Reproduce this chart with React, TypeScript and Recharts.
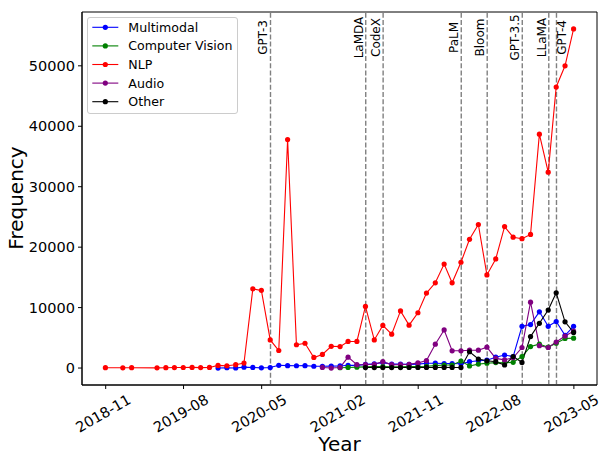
import React from 'react';
import { LineChart, Line, XAxis, YAxis, ReferenceLine, ReferenceArea } from 'recharts';

const months = [
  '2018-10', '2018-11', '2018-12', '2019-01', '2019-02', '2019-03', '2019-04', '2019-05', '2019-06', '2019-07',
  '2019-08', '2019-09', '2019-10', '2019-11', '2019-12', '2020-01', '2020-02', '2020-03', '2020-04', '2020-05',
  '2020-06', '2020-07', '2020-08', '2020-09', '2020-10', '2020-11', '2020-12', '2021-01', '2021-02', '2021-03',
  '2021-04', '2021-05', '2021-06', '2021-07', '2021-08', '2021-09', '2021-10', '2021-11', '2021-12', '2022-01',
  '2022-02', '2022-03', '2022-04', '2022-05', '2022-06', '2022-07', '2022-08', '2022-09', '2022-10', '2022-11',
  '2022-12', '2023-01', '2023-02', '2023-03', '2023-04',
];

const multimodal = [
  null, null, null, null, null, null, null, null, null, null,
  null, null, null, 0, 60, 20, 150, 100, 30, 80,
  450, 400, 380, 400, 300, 300, 320, 350, 450, 450,
  600, 700, 900, 650, 650, 600, 650, 800, 800, 750,
  750, 700, 1050, 1200, 1300, 1800, 2150, 1900, 6900, 7200,
  9300, 6900, 7700, 5400, 6900,
];

const computerVision = [
  null, null, null, null, null, null, null, null, null, null,
  null, null, null, null, null, null, null, null, null, null,
  null, null, null, null, null, null, null, 50, 100, 150,
  200, 250, 250, 200, 200, 250, 250, 300, 400, 500,
  500, 1150, 350, 650, 800, 900, 850, 950, 1900, 3550,
  3950, 3450, 4100, 4900, 4950,
];

const nlp = [
  60, null, 40, 60, null, null, 30, 60, 80, 90,
  110, 70, 100, 440, 380, 550, 820, 13100, 12850, 4650,
  2900, 37800, 3850, 4100, 1750, 2250, 3600, 3550, 4400, 4400,
  10200, 4650, 7050, 5600, 9450, 7100, 9150, 12400, 14100, 17200,
  14100, 17500, 21300, 23750, 15400, 18050, 23400, 21650, 21400, 22100,
  38700, 32400, 46500, 50000, 56100,
];

const audio = [
  null, null, null, null, null, null, null, null, null, null,
  null, null, null, null, null, null, null, null, null, null,
  null, null, null, null, null, 100, 0, 100, 1800, 550,
  550, 620, 1050, 550, 550, 620, 850, 1250, 3950, 6300,
  2850, 2850, 2950, 2950, 3450, 1600, 1350, 1700, 3400, 10900,
  3700, 3400, 4300, 5300, 6100,
];

const other = [
  null, null, null, null, null, null, null, null, null, null,
  null, null, null, null, null, null, null, null, null, null,
  null, null, null, null, null, null, null, null, null, null,
  80, 80, 90, 80, 80, 90, 90, 100, 100, 110,
  100, 100, 2700, 1500, 1200, 1050, 500, 1900, 930, 5200,
  7400, 9600, 12450, 7650, 5900,
];

const eventNames = ['GPT-3', 'LaMDA', 'CodeX', 'PaLM', 'Bloom', 'GPT-3.5', 'LLaMA', 'GPT-4'];
const eventDates = ['2020-06-01', '2021-05-01', '2021-07-01', '2022-04-01', '2022-07-01', '2022-11-01', '2023-02-02', '2023-03-01'];
const eventLabelSide = ['left', 'left', 'left', 'left', 'left', 'left', 'left', 'right'];

const xTickLabels = ['2018-11', '2019-08', '2020-05', '2021-02', '2021-11', '2022-08', '2023-05'];
const yTicks = [0, 10000, 20000, 30000, 40000, 50000];

const seriesNames = ['Multimodal', 'Computer Vision', 'NLP', 'Audio', 'Other'];
const seriesKeys = ['multimodal', 'computerVision', 'nlp', 'audio', 'other'];
const seriesColors = ['#0000ff', '#008000', '#ff0000', '#800080', '#000000'];
const seriesValues = [multimodal, computerVision, nlp, audio, other];

const DAY = 86400000;
const monthEnd = (s: string) => {
  const [y, m] = s.split('-').map(Number);
  return Date.UTC(y, m, 0) / DAY;
};
const monthStart = (s: string) => {
  const [y, m] = s.split('-').map(Number);
  return Date.UTC(y, m - 1, 1) / DAY;
};
const dateDay = (s: string) => {
  const [y, m, d] = s.split('-').map(Number);
  return Date.UTC(y, m - 1, d) / DAY;
};

const data = months.map((m, i) => {
  const row: any = { t: monthEnd(m) };
  seriesKeys.forEach((k, j) => {
    row[k] = seriesValues[j][i];
  });
  return row;
});

const xFirst = data[0].t;
const xLast = data[data.length - 1].t;
const xSpan = xLast - xFirst;
const xDomain = [xFirst - 0.05 * xSpan, xLast + 0.05 * xSpan];

const allVals = seriesValues.flat().filter((v) => v !== null) as number[];
const yMaxData = Math.max(...allVals);
const yMinData = Math.min(...allVals);
const ySpan = yMaxData - yMinData;
const yDomain = [yMinData - 0.05 * ySpan, yMaxData + 0.05 * ySpan];

const xTickDays = xTickLabels.map(monthStart);

const FONT = 'DejaVu Sans, sans-serif';

const XTick = (props: any) => {
  const { x, y, payload } = props;
  const idx = xTickDays.indexOf(payload.value);
  const label = idx >= 0 ? xTickLabels[idx] : '';
  const cx = x - 2.5;
  const cy = y + 21.5;
  return (
    <text
      x={cx}
      y={cy}
      textAnchor="middle"
      dominantBaseline="central"
      fontSize={14.5}
      fontFamily={FONT}
      fill="#000"
      transform={`rotate(-30 ${cx} ${cy})`}
    >
      {label}
    </text>
  );
};

const makeEventLabel = (text: string, side: string) => (props: any) => {
  const vb = props.viewBox || {};
  const lx = vb.x ?? 0;
  const x = side === 'right' ? lx + 10 : lx - 3;
  const y = 37.5;
  return (
    <text
      x={x}
      y={y}
      textAnchor="middle"
      fontSize={12}
      fontFamily={FONT}
      fill="#000"
      transform={`rotate(-90 ${x} ${y})`}
    >
      {text}
    </text>
  );
};

const YTitle = () => (
  <text
    x={22.5}
    y={198}
    textAnchor="middle"
    fontSize={20}
    fontFamily={FONT}
    fill="#000"
    transform="rotate(-90 22.5 198)"
  >
    Frequency
  </text>
);

const XTitle = () => (
  <text x={339.5} y={451} textAnchor="middle" fontSize={20} fontFamily={FONT} fill="#000">
    Year
  </text>
);

const Legend = () => (
  <div
    style={{
      position: 'absolute',
      left: 87,
      top: 17,
      width: 151,
      height: 97,
      boxSizing: 'border-box',
      border: '1px solid #cccccc',
      borderRadius: 3,
      background: 'rgba(255,255,255,0.8)',
    }}
  >
    <svg width={151} height={97} style={{ position: 'absolute', left: -1, top: -1 }}>
      {seriesNames.map((name, i) => {
        const cy = 10.3 + i * 18.6;
        return (
          <g key={name}>
            <line x1={5.3} x2={31.3} y1={cy} y2={cy} stroke={seriesColors[i]} strokeWidth={1.1} />
            <circle cx={18.3} cy={cy} r={2.6} fill={seriesColors[i]} />
            <text x={41.3} y={cy} dominantBaseline="central" fontSize={12.6} fontFamily={FONT} fill="#000">
              {name}
            </text>
          </g>
        );
      })}
    </svg>
  </div>
);

export default function App() {
  return (
    <div style={{ position: 'absolute', left: 0, top: 0, width: 604, height: 456, background: '#fff', fontFamily: FONT }}>
      <LineChart
        width={604}
        height={456}
        data={data}
        margin={{ top: 12, right: 7, bottom: 0, left: 0 }}
        style={{ fontFamily: FONT }}
      >
        <XAxis
          dataKey="t"
          type="number"
          domain={xDomain}
          allowDataOverflow
          ticks={xTickDays}
          interval={0}
          height={71}
          tickSize={4}
          tickMargin={3}
          axisLine={{ stroke: '#000', strokeWidth: 1 }}
          tickLine={{ stroke: '#000', strokeWidth: 1 }}
          tick={<XTick />}
          label={XTitle}
        />
        <YAxis
          type="number"
          domain={yDomain}
          allowDataOverflow
          ticks={yTicks}
          interval={0}
          width={82}
          tickSize={4}
          tickMargin={3}
          axisLine={{ stroke: '#000', strokeWidth: 1 }}
          tickLine={{ stroke: '#000', strokeWidth: 1 }}
          tick={{ fill: '#000', fontSize: 14.5, fontFamily: FONT }}
          label={YTitle}
        />
        <ReferenceArea
          x1={xDomain[0]}
          x2={xDomain[1]}
          y1={yDomain[0]}
          y2={yDomain[1]}
          fill="none"
          fillOpacity={0}
          stroke="#000"
          strokeWidth={1}
          ifOverflow="visible"
        />
        {eventNames.map((name, i) => (
          <ReferenceLine
            key={name}
            x={dateDay(eventDates[i])}
            stroke="#808080"
            strokeWidth={1.4}
            strokeDasharray="5 2.2"
            label={makeEventLabel(name, eventLabelSide[i])}
          />
        ))}
        {seriesKeys.map((k, i) => (
          <Line
            key={k}
            dataKey={k}
            name={seriesNames[i]}
            type="linear"
            stroke={seriesColors[i]}
            strokeWidth={1.1}
            dot={{ r: 2.6, fill: seriesColors[i], stroke: seriesColors[i], strokeWidth: 0 }}
            activeDot={false}
            connectNulls
            isAnimationActive={false}
          />
        ))}
      </LineChart>
      <Legend />
    </div>
  );
}
